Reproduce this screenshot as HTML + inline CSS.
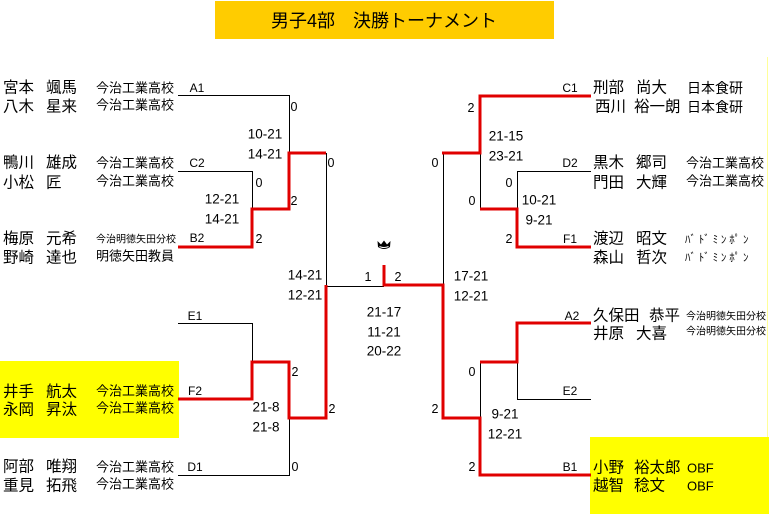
<!DOCTYPE html>
<html><head><meta charset="utf-8"><style>
html,body{margin:0;padding:0;background:#fff;}
body{width:769px;height:514px;overflow:hidden;}
svg{display:block;}
.n{font-family:"Liberation Sans","Noto Sans CJK JP",sans-serif;font-size:15.5px;fill:#000;}
.s{font-family:"Liberation Sans","Noto Sans CJK JP",sans-serif;font-size:13px;fill:#000;}
.ss{font-family:"Liberation Sans","Noto Sans CJK JP",sans-serif;font-size:10px;fill:#000;}
.sc{font-family:"Liberation Sans",sans-serif;font-size:13.5px;fill:#000;}
.d{font-family:"Liberation Sans",sans-serif;font-size:12.5px;fill:#000;}
.l{font-family:"Liberation Sans",sans-serif;font-size:12px;fill:#000;}
.t{font-family:"Liberation Sans","Noto Sans CJK JP",sans-serif;font-size:18px;fill:#000;}
</style></head><body>
<svg width="769" height="514" viewBox="0 0 769 514" xmlns="http://www.w3.org/2000/svg">
<!-- title -->
<rect x="215" y="1" width="339" height="38" fill="#FFCC00"/>
<text class="t" x="384" y="21" text-anchor="middle" dominant-baseline="central">男子4部　決勝トーナメント</text>
<!-- yellow highlights -->
<rect x="0" y="361" width="179" height="77" fill="#FFFF00"/>
<rect x="590" y="437" width="179" height="77" fill="#FFFF00"/>
<rect x="767" y="57" width="1" height="380" fill="#FFFF99"/>

<!-- black lines -->
<g fill="none" stroke="#000" stroke-width="1">
<path d="M178 95.5 H289.5 V153"/>
<path d="M178 171.5 H252.5 V209"/>
<path d="M178 323.5 H252.5 V362"/>
<path d="M178 475.5 H289.5 V418"/>
<path d="M326.5 153 V286.5 H384"/>
<path d="M591 171.5 H517.5 V209"/>
<path d="M480.5 153 V209"/>
<path d="M443.5 153 V285"/>
<path d="M591 399.5 H517.5 V362"/>
<path d="M480.5 362 V418"/>
</g>
<!-- red lines -->
<g fill="none" stroke="#E00000" stroke-width="3" stroke-linejoin="miter">
<path d="M178 247 H252 V209 H289 V153 H326"/>
<path d="M178 399 H252 V362 H289 V418 H326 V285"/>
<path d="M384 265 V285 H443 V418 H480 V475 H591"/>
<path d="M591 96 H480 V153 H442"/>
<path d="M480 209 H517 V247 H591"/>
<path d="M591 323 H517 V362 H480"/>
</g>

<!-- crown -->
<path d="M377.5 241 L381 244.5 L384 240.5 L387 244.5 L390.5 241 L390 247 Q384 251 378 247 Z" fill="#000"/>
<path d="M379.5 246.5 Q384 248.5 388.5 246.5" stroke="#fff" stroke-width="1" fill="none"/>

<!-- line labels -->
<g class="l" text-anchor="middle" dominant-baseline="central">
<text x="197" y="88">A1</text>
<text x="197" y="163">C2</text>
<text x="197" y="238">B2</text>
<text x="195" y="316">E1</text>
<text x="195" y="391">F2</text>
<text x="195" y="467">D1</text>
<text x="570" y="88">C1</text>
<text x="570" y="163">D2</text>
<text x="570" y="239">F1</text>
<text x="572" y="316">A2</text>
<text x="570" y="391">E2</text>
<text x="570" y="467">B1</text>
</g>

<!-- single digit scores -->
<g class="d" text-anchor="middle" dominant-baseline="central">
<text x="294" y="107">0</text>
<text x="331" y="163">0</text>
<text x="259" y="183">0</text>
<text x="294" y="201">2</text>
<text x="259" y="239">2</text>
<text x="368" y="277">1</text>
<text x="295" y="372">2</text>
<text x="332" y="409">2</text>
<text x="295" y="467">0</text>
<text x="398" y="277">2</text>
<text x="471" y="108">2</text>
<text x="435" y="163">0</text>
<text x="509" y="183">0</text>
<text x="472" y="201">0</text>
<text x="509" y="239">2</text>
<text x="472" y="372">0</text>
<text x="435" y="409">2</text>
<text x="472" y="467">2</text>
</g>

<!-- game scores -->
<g class="sc" text-anchor="middle" dominant-baseline="central">
<text x="265" y="134">10-21</text>
<text x="265" y="154">14-21</text>
<text x="222" y="199">12-21</text>
<text x="222" y="219">14-21</text>
<text x="305" y="275">14-21</text>
<text x="305" y="295">12-21</text>
<text x="266" y="407">21-8</text>
<text x="266" y="427">21-8</text>
<text x="384" y="312">21-17</text>
<text x="384" y="332">11-21</text>
<text x="384" y="351">20-22</text>
<text x="506" y="136">21-15</text>
<text x="506" y="156">23-21</text>
<text x="539" y="200">10-21</text>
<text x="539" y="220">9-21</text>
<text x="471" y="276">17-21</text>
<text x="471" y="296">12-21</text>
<text x="505" y="414">9-21</text>
<text x="505" y="434">12-21</text>
</g>

<!-- left names -->
<g class="n" dominant-baseline="central">
<text x="3" y="88">宮本</text><text x="46" y="88">颯馬</text>
<text x="3" y="107">八木</text><text x="46" y="107">星来</text>
<text x="3" y="163">鴨川</text><text x="46" y="163">雄成</text>
<text x="3" y="183">小松</text><text x="46" y="183">匠</text>
<text x="3" y="239">梅原</text><text x="46" y="239">元希</text>
<text x="3" y="258">野崎</text><text x="46" y="258">達也</text>
<text x="3" y="392">井手</text><text x="46" y="392">航太</text>
<text x="3" y="410">永岡</text><text x="46" y="410">昇汰</text>
<text x="3" y="467">阿部</text><text x="46" y="467">唯翔</text>
<text x="3" y="486">重見</text><text x="46" y="486">拓飛</text>
</g>
<g class="s" dominant-baseline="central">
<text x="96" y="88">今治工業高校</text>
<text x="96" y="105">今治工業高校</text>
<text x="96" y="163">今治工業高校</text>
<text x="96" y="181">今治工業高校</text>
<text x="96" y="256">明徳矢田教員</text>
<text x="96" y="391">今治工業高校</text>
<text x="96" y="408">今治工業高校</text>
<text x="96" y="467">今治工業高校</text>
<text x="96" y="484">今治工業高校</text>
</g>
<g class="ss" dominant-baseline="central">
<text x="96" y="240">今治明徳矢田分校</text>
</g>

<!-- right names -->
<g class="n" dominant-baseline="central">
<text x="593" y="88">刑部</text><text x="636" y="88">尚大</text>
<text x="595" y="107">西川</text><text x="634" y="107">裕一朗</text>
<text x="593" y="163">黒木</text><text x="636" y="163">郷司</text>
<text x="593" y="183">門田</text><text x="636" y="183">大輝</text>
<text x="593" y="239">渡辺</text><text x="636" y="239">昭文</text>
<text x="593" y="258">森山</text><text x="636" y="258">哲次</text>
<text x="593" y="316">久保田</text><text x="649" y="316">恭平</text>
<text x="593" y="334">井原</text><text x="636" y="334">大喜</text>
<text x="593" y="468">小野</text><text x="634" y="468">裕太郎</text>
<text x="593" y="486">越智</text><text x="634" y="486">稔文</text>
</g>
<g class="n" dominant-baseline="central" style="font-size:14px">
<text x="687" y="88">日本食研</text>
<text x="687" y="107">日本食研</text>
</g>
<g class="s" dominant-baseline="central">
<text x="686" y="163">今治工業高校</text>
<text x="686" y="181">今治工業高校</text>
<text x="687" y="468">OBF</text>
<text x="687" y="486">OBF</text>
</g>
<g class="ss" dominant-baseline="central">
<text x="685" y="240" style="font-size:11px;letter-spacing:2.8px">ﾊﾞﾄﾞﾐﾝﾎﾟﾝ</text>
<text x="685" y="258" style="font-size:11px;letter-spacing:2.8px">ﾊﾞﾄﾞﾐﾝﾎﾟﾝ</text>
<text x="686" y="317">今治明徳矢田分校</text>
<text x="686" y="332">今治明徳矢田分校</text>
</g>
</svg>
</body></html>
